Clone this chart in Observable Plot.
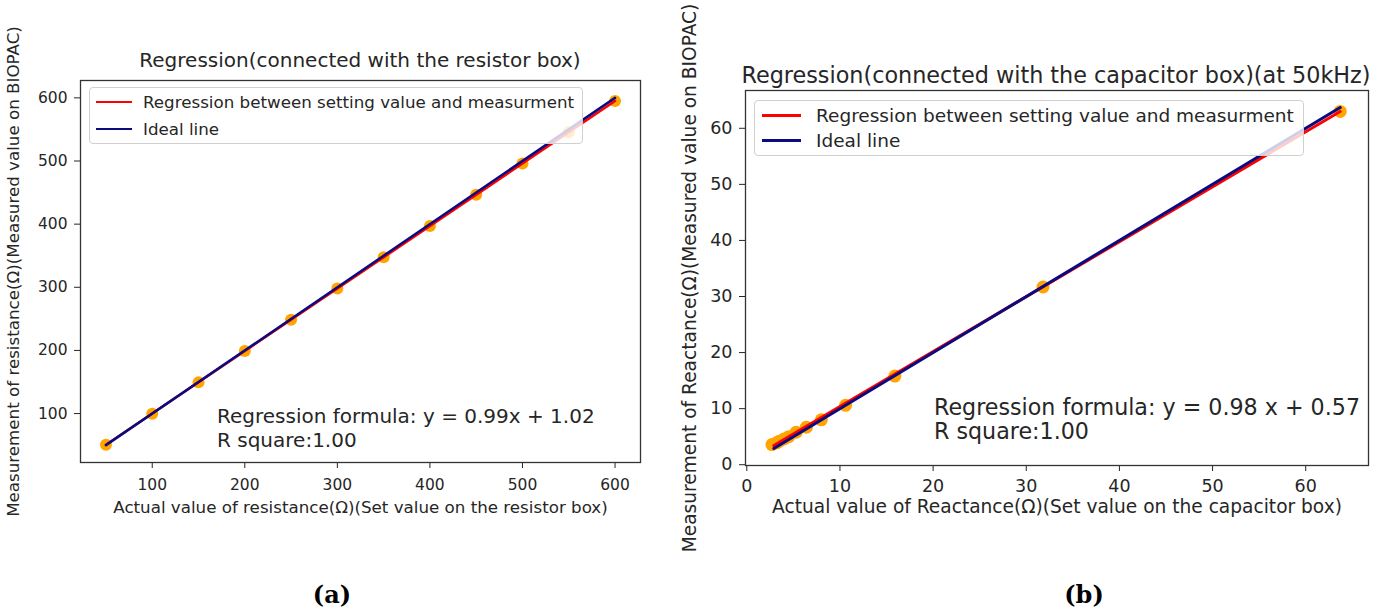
<!DOCTYPE html>
<html><head><meta charset="utf-8">
<script src="https://cdn.jsdelivr.net/npm/d3@7"></script>
<script src="https://cdn.jsdelivr.net/npm/@observablehq/plot@0.6"></script>
<style>
body{margin:0;background:#fff;font-family:"DejaVu Sans",sans-serif;color:#262626}
#root{position:relative;width:1384px;height:616px;overflow:hidden;background:#fff}
.abs{position:absolute;white-space:nowrap}
.legend{position:absolute;background:rgba(255,255,255,0.8);border:1px solid #d0d0d0;border-radius:4px;box-sizing:border-box}
.sw{position:absolute;height:0}
.lt{position:absolute;white-space:nowrap;transform:translateY(-50%)}
.cap{position:absolute;font-family:"DejaVu Serif",serif;font-weight:bold;font-size:24px;color:#000;transform:translate(-50%,-50%)}
#pa g[aria-label="x-axis tick label"], #pa g[aria-label="y-axis tick label"]{font-size:15.5px}
#pb g[aria-label="x-axis tick label"], #pb g[aria-label="y-axis tick label"]{font-size:17.5px}
</style></head><body><div id="root"></div>
<script>
// ---- data: panel (a) resistor box ----
const resistorSet = [50,100,150,200,250,300,350,400,450,500,550,600];
const resistorMeasured = [50.5,99.8,149.4,199.2,248.6,298.0,347.6,397.0,446.6,495.9,545.5,595.2];
const resistorRegLineX = [50,600];
const resistorRegLineY = [50.5,595.0];
const resistorIdealLineX = [50,600];
const resistorIdealLineY = [50,600];
const resistorTicks = [100,200,300,400,500,600];

// ---- data: panel (b) capacitor box ----
const reactanceSet = [2.7,3.2,3.5,4.0,4.5,5.3,6.4,8.0,10.6,15.9,31.8,63.7];
const reactanceMeasured = [3.6,3.9,4.2,4.6,5.0,5.8,6.7,8.0,10.6,15.8,31.7,63.0];
const reactanceRegLineX = [2.9,63.7];
const reactanceRegLineY = [3.4,63.0];
const reactanceIdealLineX = [2.9,63.7];
const reactanceIdealLineY = [2.9,63.7];
const reactanceTicks = [0,10,20,30,40,50,60];

const legendLabels = ["Regression between setting value and measurment","Ideal line"];
const titles = ["Regression(connected with the resistor box)","Regression(connected with the capacitor box)(at 50kHz)"];
const formulas = [["Regression formula: y = 0.99x + 1.02","R square:1.00"],["Regression formula: y = 0.98 x + 0.57","R square:1.00"]];
const captions = ["(a)","(b)"];

const root = document.getElementById("root");
const zip = (xs, ys) => xs.map((x, i) => ({x, y: ys[i]}));

function panel(o){
  const svg = Plot.plot({
    width:o.width, height:o.height,
    marginLeft:o.ml, marginRight:o.mr, marginTop:o.mt, marginBottom:o.mb,
    style:{fontFamily:"DejaVu Sans",fontSize:o.fs+"px",color:"#262626",background:"transparent",overflow:"visible"},
    x:{domain:o.domain, ticks:o.ticks, tickFormat:d=>String(d), tickSize:6, tickPadding:o.tpx, label:o.xLabel, labelAnchor:"center", labelArrow:"none", labelOffset:o.xlo},
    y:{domain:o.domain, ticks:o.ticks, tickFormat:d=>String(d), tickSize:6, tickPadding:o.tpy, label:o.yLabel, labelAnchor:"center", labelArrow:"none", labelOffset:o.ylo},
    marks:[
      Plot.dot(zip(o.px,o.py),{x:"x",y:"y",r:o.r,fill:"#FFA500",stroke:"none"}),
      Plot.line(zip(o.rx,o.ry),{x:"x",y:"y",stroke:"#ff0000",strokeWidth:o.lw}),
      Plot.line(zip(o.ix,o.iy),{x:"x",y:"y",stroke:"#0b0b80",strokeWidth:o.lw}),
      Plot.frame({stroke:"#333",strokeWidth:1.3})
    ]
  });
  const wrap = document.createElement("div");
  wrap.className="abs"; wrap.id=o.id; wrap.style.left=o.left+"px"; wrap.style.top="0px";
  wrap.appendChild(svg); root.appendChild(wrap);
}

function text(str, left, top, fs, extra){
  const d=document.createElement("div"); d.className="abs"; d.textContent=str;
  d.style.left=left+"px"; d.style.top=top+"px"; d.style.fontSize=fs+"px";
  if(extra) Object.assign(d.style, extra);
  root.appendChild(d); return d;
}

function legend(left, top, w, h, swL, swW, rows, textL, fs, lw){
  const b=document.createElement("div"); b.className="legend";
  Object.assign(b.style,{left:left+"px",top:top+"px",width:w+"px",height:h+"px"});
  const colors=["#ff0000","#0b0b80"];
  legendLabels.forEach((lab,i)=>{
    const s=document.createElement("div"); s.className="sw";
    Object.assign(s.style,{left:swL+"px",top:(rows[i]-lw/2)+"px",width:swW+"px",borderTop:lw+"px solid "+colors[i]});
    b.appendChild(s);
    const t=document.createElement("div"); t.className="lt"; t.textContent=lab;
    Object.assign(t.style,{left:textL+"px",top:rows[i]+"px",fontSize:fs+"px"});
    b.appendChild(t);
  });
  root.appendChild(b);
}

// panel (a)
panel({id:"pa",left:0,width:660,height:530,ml:80,mr:20,mt:80,mb:68,fs:16.7,
  domain:[22.5,627.5],ticks:resistorTicks,tpx:10,tpy:7,
  xLabel:"Actual value of resistance(Ω)(Set value on the resistor box)",
  yLabel:"Measurement of resistance(Ω)(Measured value on BIOPAC)",
  xlo:50,ylo:73,r:6,lw:2.5,
  px:resistorSet,py:resistorMeasured,rx:resistorRegLineX,ry:resistorRegLineY,ix:resistorIdealLineX,iy:resistorIdealLineY});

// panel (b)
panel({id:"pb",left:680,width:704,height:530,ml:65,mr:16,mt:90,mb:65,fs:18.6,
  domain:[-0.14,66.74],ticks:reactanceTicks,tpx:8,tpy:7,
  xLabel:"Actual value of Reactance(Ω)(Set value on the capacitor box)",
  yLabel:"Measurement of Reactance(Ω)(Measured value on BIOPAC)",
  xlo:47,ylo:63,r:6.5,lw:3,
  px:reactanceSet,py:reactanceMeasured,rx:reactanceRegLineX,ry:reactanceRegLineY,ix:reactanceIdealLineX,iy:reactanceIdealLineY});

// titles
text(titles[0],360,60,20,{transform:"translate(-50%,-50%)"});
text(titles[1],1056,75,22.3,{transform:"translate(-50%,-50%)"});

// legends
legend(89,87,494,57,6,36,[14,41],53,16.7,2.5);
legend(754,100,550,56,7,39,[14,39],61,18.5,3);

// annotations
text(formulas[0][0],217,416,20,{transform:"translateY(-50%)"});
text(formulas[0][1],217,440,20,{transform:"translateY(-50%)"});
text(formulas[1][0],934,407,22.2,{transform:"translateY(-50%)"});
text(formulas[1][1],934,431,22.2,{transform:"translateY(-50%)"});

// captions
[[captions[0],332,594],[captions[1],1084,594]].forEach(([c,x,y])=>{
  const d=document.createElement("div"); d.className="cap"; d.textContent=c;
  d.style.left=x+"px"; d.style.top=y+"px"; root.appendChild(d);
});
</script></body></html>
